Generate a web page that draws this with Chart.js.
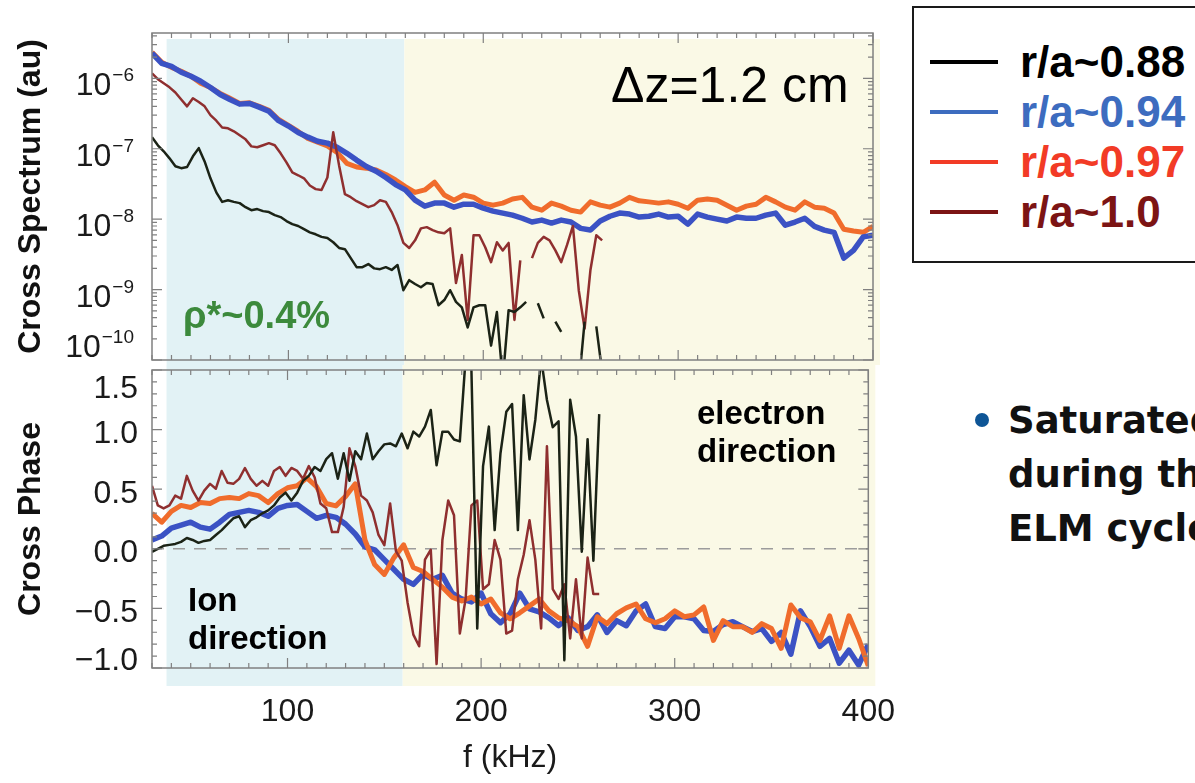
<!DOCTYPE html>
<html>
<head>
<meta charset="utf-8">
<script src="https://cdn.jsdelivr.net/npm/chart.js@4.4.1/dist/chart.umd.min.js"></script>
<style>
  html, body { margin: 0; padding: 0; }
  body {
    width: 1195px; height: 783px; overflow: hidden; position: relative;
    background: #fff; font-family: "Liberation Sans", Arial, sans-serif;
  }
  canvas { position: absolute; left: 0; }
  #spec { top: 0; }
  #phase { top: 365px; }
  .note { position: absolute; white-space: nowrap; }
  #dz { left: 611px; top: 60px; font-size: 50px; line-height: 50px; color: #000; }
  #rho { left: 183px; top: 296px; font-size: 38px; line-height: 38px; font-weight: bold; color: #3c8a3c; }
  #ion { left: 188px; top: 581px; font-size: 33px; line-height: 38px; font-weight: bold; color: #000; }
  #elec { left: 697px; top: 394px; font-size: 33px; line-height: 38px; font-weight: bold; color: #000; }
  #legend {
    position: absolute; left: 912px; top: 6px; width: 320px; height: 257px;
    border: 2px solid #1a1a1a; box-sizing: border-box; padding-top: 29px;
  }
  #legend .row {
    height: 50px; display: flex; align-items: center;
    font: bold 44px "Liberation Sans", Arial, sans-serif; white-space: nowrap;
  }
  #legend .swatch { width: 68px; height: 4px; margin-left: 16px; margin-right: 22px; flex: none; }
  #dot { position: absolute; left: 975px; top: 413px; width: 14px; height: 14px; border-radius: 50%; background: #0e5596; }
  #bullet {
    position: absolute; left: 1008px; top: 394px; white-space: nowrap; color: #111;
    font: bold 37px "DejaVu Sans", sans-serif; line-height: 54px;
  }
</style>
</head>
<body>
<canvas id="spec" width="880" height="365"></canvas>
<canvas id="phase" width="920" height="418"></canvas>
<div class="note" id="dz">Δz=1.2 cm</div>
<div class="note" id="rho">ρ*~0.4%</div>
<div class="note" id="ion">Ion<br>direction</div>
<div class="note" id="elec">electron<br>direction</div>
<div id="legend"></div>
<div id="dot"></div>
<div id="bullet">Saturated<br>during the<br>ELM cycle</div>
<script>
// frequency sampling (kHz): fine probes to 400 kHz, the two others stop near 262 kHz
const freqWide = [30, 35, 40, 45, 50, 55, 60, 65, 70, 75, 80, 85, 90, 95, 100, 105, 110, 115, 120, 125,
  130, 135, 140, 145, 150, 155, 160, 165, 170, 175, 180, 185, 190, 195, 200, 205, 210, 215, 220, 225,
  230, 235, 240, 245, 250, 255, 260, 265, 270, 275, 280, 285, 290, 295, 300, 305, 310, 315, 320, 325,
  330, 335, 340, 345, 350, 355, 360, 365, 370, 375, 380, 385, 390, 395, 400];
const freqNarrow = [30, 33, 36, 39, 42, 45, 48, 51, 54, 57, 60, 63, 66, 69, 72, 75, 78, 81, 84, 87,
  90, 93, 96, 99, 102, 105, 108, 111, 114, 117, 120, 123, 126, 129, 132, 135, 138, 141, 144, 147,
  150, 153, 156, 159, 162, 165, 168, 171, 174, 177, 180, 183, 186, 189, 192, 195, 198, 201, 204, 207,
  210, 213, 216, 219, 222, 225, 228, 231, 234, 237, 240, 243, 246, 249, 252, 255, 258, 261];

const seriesNames = ['r/a~0.88', 'r/a~0.94', 'r/a~0.97', 'r/a~1.0'];
const lineColors = ['#1b2316', '#3b52c4', '#f06c2c', '#8f2f2f'];
const legendColors = ['#000000', '#3d6cbf', '#f23b26', '#7c1414'];
const lineWidths = [2.5, 5.5, 5, 2.5];

// cross spectrum (au)
const specBlack = [1.46e-7, 1.12e-7, 9.2e-8, 7.3e-8, 5.65e-8, 5.3e-8, 5.5e-8, 7.8e-8, 1.02e-7, 6.6e-8,
  3.8e-8, 2.4e-8, 1.76e-8, 1.86e-8, 1.76e-8, 1.69e-8, 1.48e-8, 1.34e-8, 1.39e-8, 1.30e-8,
  1.26e-8, 1.14e-8, 1.07e-8, 9.4e-9, 8.5e-9, 8.0e-9, 7.2e-9, 6.5e-9, 6.1e-9, 5.6e-9,
  5.4e-9, 4.7e-9, 3.9e-9, 3.75e-9, 2.8e-9, 2.08e-9, 2.08e-9, 2.3e-9, 2.0e-9, 1.95e-9,
  2.08e-9, 1.9e-9, 2.23e-9, 9.8e-10, 1.36e-9, 1.2e-9, 1.08e-9, 1.24e-9, 1.2e-9, 6.0e-10,
  7.1e-10, 9.8e-10, 6.7e-10, 5.6e-10, 2.9e-10, 5.6e-10, 6.0e-10, 6.0e-10, 1.6e-10, 4.8e-10,
  5.2e-11, 5.1e-10, 4.8e-10, 5.6e-10, 6.7e-10, null, 6.4e-10, 3.9e-10, null, 3.5e-10,
  2.5e-10, null, null, 4.4e-11, 3.5e-10, null, 3.0e-10, 6.8e-11];
const specBlue = [2.27e-6, 1.63e-6, 1.48e-6, 1.22e-6, 1.07e-6, 9.1e-7, 7.4e-7, 5.9e-7, 5.0e-7, 4.3e-7,
  4.4e-7, 3.9e-7, 3.4e-7, 2.5e-7, 2.1e-7, 1.7e-7, 1.46e-7, 1.28e-7, 1.2e-7, 1.05e-7,
  8.6e-8, 6.9e-8, 5.6e-8, 4.8e-8, 3.9e-8, 3.1e-8, 2.6e-8, 1.86e-8, 1.53e-8, 1.69e-8,
  1.69e-8, 1.48e-8, 1.63e-8, 1.63e-8, 1.43e-8, 1.30e-8, 1.22e-8, 1.14e-8, 1.03e-8, 9.1e-9,
  9.7e-9, 8.8e-9, 9.7e-9, 9.1e-9, 7.4e-9, 7.0e-9, 9.4e-9, 1.10e-8, 1.22e-8, 1.18e-8,
  1.07e-8, 1.10e-8, 1.18e-8, 1.07e-8, 1.10e-8, 8.5e-9, 1.18e-8, 1.07e-8, 1.0e-8, 9.4e-9,
  1.07e-8, 1.03e-8, 1.03e-8, 1.14e-8, 1.22e-8, 8.2e-9, 9.1e-9, 1.03e-8, 7.9e-9, 7.0e-9,
  6.5e-9, 2.8e-9, 3.6e-9, 5.6e-9, 5.9e-9];
const specOrange = [2.34e-6, 1.69e-6, 1.43e-6, 1.26e-6, 1.07e-6, 8.5e-7, 7.4e-7, 6.1e-7, 5.2e-7, 4.4e-7,
  4.5e-7, 4.0e-7, 3.5e-7, 2.6e-7, 2.15e-7, 1.76e-7, 1.4e-7, 1.24e-7, 1.1e-7, 8.9e-8,
  6.2e-8, 5.5e-8, 5.3e-8, 5.0e-8, 4.3e-8, 3.6e-8, 2.9e-8, 2.4e-8, 2.6e-8, 3.35e-8,
  2.2e-8, 1.86e-8, 2.2e-8, 2.05e-8, 1.69e-8, 1.58e-8, 1.69e-8, 1.93e-8, 2.04e-8, 1.48e-8,
  1.34e-8, 1.69e-8, 1.53e-8, 1.34e-8, 1.26e-8, 1.76e-8, 1.58e-8, 1.48e-8, 1.69e-8, 2.04e-8,
  1.82e-8, 1.76e-8, 1.69e-8, 1.76e-8, 1.63e-8, 1.43e-8, 1.86e-8, 1.93e-8, 1.86e-8, 1.58e-8,
  1.34e-8, 1.53e-8, 1.63e-8, 2.04e-8, 1.76e-8, 1.48e-8, 1.34e-8, 1.76e-8, 1.48e-8, 1.43e-8,
  1.22e-8, 7.2e-9, 6.8e-9, 6.5e-9, 7.9e-9];
const specEdge = [1.18e-6, 9.7e-7, 8.5e-7, 7.45e-7, 6.3e-7, 5.0e-7, 4.0e-7, 5.2e-7, 4.6e-7, 4.0e-7,
  3.0e-7, 2.5e-7, 2.0e-7, 1.95e-7, 1.77e-7, 1.55e-7, 1.36e-7, 1.08e-7, 1.05e-7, 1.12e-7,
  1.2e-7, 1.12e-7, 8.6e-8, 6.4e-8, 4.6e-8, 4.2e-8, 3.8e-8, 3.0e-8, 2.67e-8, 2.6e-8,
  3.9e-8, 1.71e-7, 5.8e-8, 2.26e-8, 2.05e-8, 1.8e-8, 1.63e-8, 1.48e-8, 1.58e-8, 1.86e-8,
  1.76e-8, 1.26e-8, 8.2e-9, 4.6e-9, 3.9e-9, 5.0e-9, 7.4e-9, 7.7e-9, 7.0e-9, 6.5e-9,
  6.3e-9, 7.4e-9, 1.24e-9, 3.1e-9, 3.7e-10, 5.9e-9, 5.9e-9, 4.0e-9, 2.45e-9, 4.7e-9,
  3.6e-9, 4.6e-9, 3.7e-10, 2.6e-9, null, 2.8e-9, 4.6e-9, 5.6e-9, 5.0e-9, 3.6e-9,
  2.45e-9, 4.3e-9, 8.0e-9, 9.8e-10, 2.8e-10, 1.9e-9, 5.9e-9, 5.0e-9];

// cross phase
const phaseBlack = [-0.025, 0.0, 0.025, 0.033, 0.041, 0.058, 0.091, 0.074, 0.050, 0.066,
  0.074, 0.116, 0.157, 0.207, 0.256, 0.273, 0.182, 0.240, 0.264, 0.298,
  0.322, 0.364, 0.430, 0.471, 0.405, 0.471, 0.570, 0.612, 0.686, 0.653,
  0.752, 0.802, 0.587, 0.802, 0.570, 0.818, 0.752, 0.967, 0.752, 0.818,
  0.876, 0.884, 0.860, 0.967, 0.843, 0.983, 0.942, 1.025, 1.165, 0.70,
  0.983, 0.983, 0.917, 0.901, 1.6, 1.496, -0.669, 0.694, 1.025, 0.157,
  0.802, 1.149, 1.215, 0.157, 1.289, 0.75, 1.083, 1.6, 1.248, 1.02,
  1.07, -0.934, 1.25, 0.942, -0.025, 0.92, -0.1, 1.13];
const phaseBlue = [0.074, 0.107, 0.174, 0.198, 0.223, 0.182, 0.165, 0.223, 0.289, 0.306,
  0.322, 0.306, 0.273, 0.339, 0.364, 0.372, 0.314, 0.256, 0.281, 0.264,
  0.207, 0.124, 0.017, -0.008, -0.091, -0.174, -0.256, -0.298, -0.215, -0.256,
  -0.223, -0.372, -0.421, -0.446, -0.372, -0.545, -0.62, -0.545, -0.372, -0.504,
  -0.529, -0.579, -0.645, -0.579, -0.686, -0.653, -0.554, -0.702, -0.603, -0.645,
  -0.521, -0.463, -0.653, -0.669, -0.57, -0.57, -0.587, -0.686, -0.694, -0.636,
  -0.612, -0.653, -0.694, -0.669, -0.777, -0.702, -0.884, -0.521, -0.653, -0.818,
  -0.752, -0.96, -0.851, -0.975, -0.802];
const phaseOrange = [0.298, 0.223, 0.314, 0.364, 0.347, 0.388, 0.380, 0.421, 0.430, 0.421,
  0.463, 0.446, 0.388, 0.463, 0.512, 0.529, 0.595, 0.521, 0.38, 0.36,
  0.44, 0.545, 0.074, -0.132, -0.215, -0.074, 0.033, -0.157, -0.19, -0.256,
  -0.322, -0.405, -0.438, -0.405, -0.463, -0.421, -0.537, -0.587, -0.537, -0.479,
  -0.421, -0.521, -0.579, -0.603, -0.653, -0.818, -0.57, -0.628, -0.545, -0.496,
  -0.463, -0.587, -0.62, -0.587, -0.521, -0.57, -0.554, -0.488, -0.769, -0.603,
  -0.653, -0.653, -0.702, -0.628, -0.669, -0.835, -0.471, -0.579, -0.612, -0.769,
  -0.562, -0.835, -0.562, -0.752, -0.983];
const phaseEdge = [0.529, 0.364, 0.339, 0.364, 0.446, 0.421, 0.612, 0.488, 0.405, 0.488,
  0.545, 0.504, 0.653, 0.554, 0.545, 0.587, 0.678, 0.587, 0.529, 0.570,
  0.529, 0.653, 0.686, 0.612, 0.678, 0.653, 0.587, 0.694, 0.60, 0.38,
  0.34, 0.14, 0.14, 0.35, 0.843, 0.694, 0.446, 0.405, 0.306, 0.116,
  0.03, 0.38, -0.02, -0.10, -0.45, -0.72, -0.818, -0.091, -0.008, -0.967,
  0.074, 0.405, 0.281, -0.711, -0.421, 0.364, 0.405, -0.339, -0.298, 0.074,
  -0.091, -0.711, -0.686, -0.256, -0.050, 0.240, -0.091, -0.669, 0.860, -0.339,
  -0.421, -0.298, -0.752, -0.256, -0.752, -0.074, -0.380, -0.380];

// axis ticks and labels
const freqTickValues = [100, 200, 300, 400];
const specTickValues = [1e-10, 1e-9, 1e-8, 1e-7, 1e-6];
const specTickExps = ['−10', '−9', '−8', '−7', '−6'];
const phaseTickValues = [-1, -0.5, 0, 0.5, 1, 1.5];
const phaseTickLabels = ['−1.0', '−0.5', '0.0', '0.5', '1.0', '1.5'];

// ion / electron direction bands (kHz)
const ionBand = [37.5, 159.5];

const FONT = '"Liberation Sans", Arial, sans-serif';
Chart.defaults.font.family = FONT;

const makeSet = (k, xs, ys) => ({
  label: seriesNames[k],
  data: xs.map((x, i) => ({ x, y: ys[i] })),
  borderColor: lineColors[k],
  borderWidth: lineWidths[k],
  pointRadius: 0,
  tension: 0,
  fill: false,
  borderJoinStyle: 'round'
});

// minor ticks every 10 kHz, long ones on the hundreds
const freqMinor = [];
for (let f = 30; f <= 400; f += 10) freqMinor.push([f, f % 100 === 0]);

const specMinor = [];
specTickValues.forEach(d => {
  for (let m = 1; m <= 9; m++) if (m * d <= 4.4e-6) specMinor.push([m * d, m === 1]);
});

const phaseMinor = [];
for (let i = -10; i <= 15; i++) phaseMinor.push([i / 10, i % 5 === 0]);

// shaded bands, frame, inward ticks and y labels for one panel
const panelDecor = cfg => ({
  id: 'panelDecor',
  beforeDraw(chart) {
    const { ctx, chartArea: a, scales: { x } } = chart;
    const x0 = x.getPixelForValue(ionBand[0]);
    const x1 = x.getPixelForValue(ionBand[1]);
    const top = cfg.shadeTop(a, chart);
    const bottom = cfg.shadeBottom(a, chart);
    ctx.save();
    ctx.fillStyle = '#e2f2f5';
    ctx.fillRect(x0, top, x1 - x0, bottom - top);
    ctx.fillStyle = '#faf9e6';
    ctx.fillRect(x1, top, a.right + 7 - x1, bottom - top);
    ctx.restore();
  },
  beforeDatasetsDraw(chart) {
    if (!cfg.zeroLine) return;
    const { ctx, chartArea: a, scales: { y } } = chart;
    const py = y.getPixelForValue(0);
    ctx.save();
    ctx.strokeStyle = '#9c9c9c';
    ctx.lineWidth = 1.6;
    ctx.setLineDash([12, 9]);
    ctx.beginPath();
    ctx.moveTo(a.left, py);
    ctx.lineTo(a.right, py);
    ctx.stroke();
    ctx.restore();
  },
  afterDatasetsDraw(chart) {
    const { ctx, chartArea: a, scales: { x, y } } = chart;
    ctx.save();
    ctx.strokeStyle = '#808080';
    ctx.lineWidth = 1.2;
    ctx.beginPath();
    freqMinor.forEach(([v, major]) => {
      const px = x.getPixelForValue(v);
      const len = major ? 10 : 5;
      ctx.moveTo(px, a.top); ctx.lineTo(px, a.top + len);
      ctx.moveTo(px, a.bottom); ctx.lineTo(px, a.bottom - len);
    });
    cfg.yMinor.forEach(([v, major]) => {
      const py = y.getPixelForValue(v);
      const len = major ? 10 : 5;
      ctx.moveTo(a.left, py); ctx.lineTo(a.left + len, py);
      ctx.moveTo(a.right, py); ctx.lineTo(a.right - len, py);
    });
    ctx.stroke();
    ctx.lineWidth = 1.5;
    ctx.strokeRect(a.left, a.top, a.right - a.left, a.bottom - a.top);
    ctx.fillStyle = '#1a1a1a';
    ctx.textAlign = 'right';
    ctx.textBaseline = 'alphabetic';
    cfg.drawLabels(ctx, a, y);
    ctx.restore();
  }
});

const baseOptions = (padding, scales) => ({
  responsive: false,
  animation: false,
  events: [],
  layout: { padding },
  plugins: { legend: { display: false }, tooltip: { enabled: false } },
  scales
});

const yTitle = text => ({
  display: true,
  text,
  color: '#111',
  font: { size: 32, weight: 'bold' },
  padding: { top: 12, bottom: 0 }
});

new Chart(document.getElementById('spec'), {
  type: 'line',
  data: {
    datasets: [
      makeSet(0, freqNarrow, specBlack),
      makeSet(3, freqNarrow, specEdge),
      makeSet(1, freqWide, specBlue),
      makeSet(2, freqWide, specOrange)
    ]
  },
  options: baseOptions({ top: 33, right: 7, bottom: 5, left: 0 }, {
    x: { type: 'linear', min: 30, max: 400, display: false },
    y: {
      type: 'logarithmic', min: 1e-10, max: 4.4e-6,
      ticks: { display: false },
      grid: { display: false, drawTicks: false },
      border: { display: false },
      title: yTitle('Cross Spectrum (au)'),
      afterFit: s => { s.width = 152; }
    }
  }),
  plugins: [panelDecor({
    shadeTop: a => a.top + 6,
    shadeBottom: (a, chart) => chart.height,
    yMinor: specMinor,
    drawLabels(ctx, a, y) {
      specTickValues.forEach((v, i) => {
        const base = Math.min(y.getPixelForValue(v) + 17, a.bottom - 3);
        ctx.font = '19px ' + FONT;
        const exp = specTickExps[i];
        const w = ctx.measureText(exp).width;
        ctx.fillText(exp, 134, base - 14);
        ctx.font = '32px ' + FONT;
        ctx.fillText('10', 133 - w, base);
      });
    }
  })]
});

new Chart(document.getElementById('phase'), {
  type: 'line',
  data: {
    datasets: [
      makeSet(0, freqNarrow, phaseBlack),
      makeSet(3, freqNarrow, phaseEdge),
      makeSet(2, freqWide, phaseOrange),
      makeSet(1, freqWide, phaseBlue)
    ]
  },
  options: baseOptions({ top: 5, right: 47, bottom: 0, left: 0 }, {
    x: {
      type: 'linear', min: 30, max: 400,
      grid: { display: false, drawTicks: false },
      border: { display: false },
      ticks: { color: '#1a1a1a', font: { size: 32 }, padding: 25, autoSkip: false, maxRotation: 0 },
      afterBuildTicks: s => { s.ticks = freqTickValues.map(value => ({ value })); },
      title: { display: true, text: 'f (kHz)', color: '#1a1a1a', font: { size: 32 }, padding: { top: 0, bottom: 6 } },
      afterFit: s => { s.height = 115; }
    },
    y: {
      type: 'linear', min: -1, max: 1.5,
      ticks: { display: false },
      grid: { display: false, drawTicks: false },
      border: { display: false },
      title: yTitle('Cross Phase'),
      afterFit: s => { s.width = 152; }
    }
  }),
  plugins: [panelDecor({
    shadeTop: () => 0,
    shadeBottom: a => a.bottom + 18,
    zeroLine: true,
    yMinor: phaseMinor,
    drawLabels(ctx, a, y) {
      ctx.font = '32px ' + FONT;
      phaseTickValues.forEach((v, i) => {
        const mid = Math.max(a.top + 16, Math.min(y.getPixelForValue(v) + 2, a.bottom - 10));
        ctx.fillText(phaseTickLabels[i], 138, mid + 11.5);
      });
    }
  })]
});

// legend box built from the series list
const legendBox = document.getElementById('legend');
seriesNames.forEach((name, k) => {
  const row = document.createElement('div');
  row.className = 'row';
  const swatch = document.createElement('span');
  swatch.className = 'swatch';
  swatch.style.background = legendColors[k];
  const label = document.createElement('span');
  label.style.color = legendColors[k];
  label.textContent = name;
  row.appendChild(swatch);
  row.appendChild(label);
  legendBox.appendChild(row);
});
</script>
</body>
</html>
